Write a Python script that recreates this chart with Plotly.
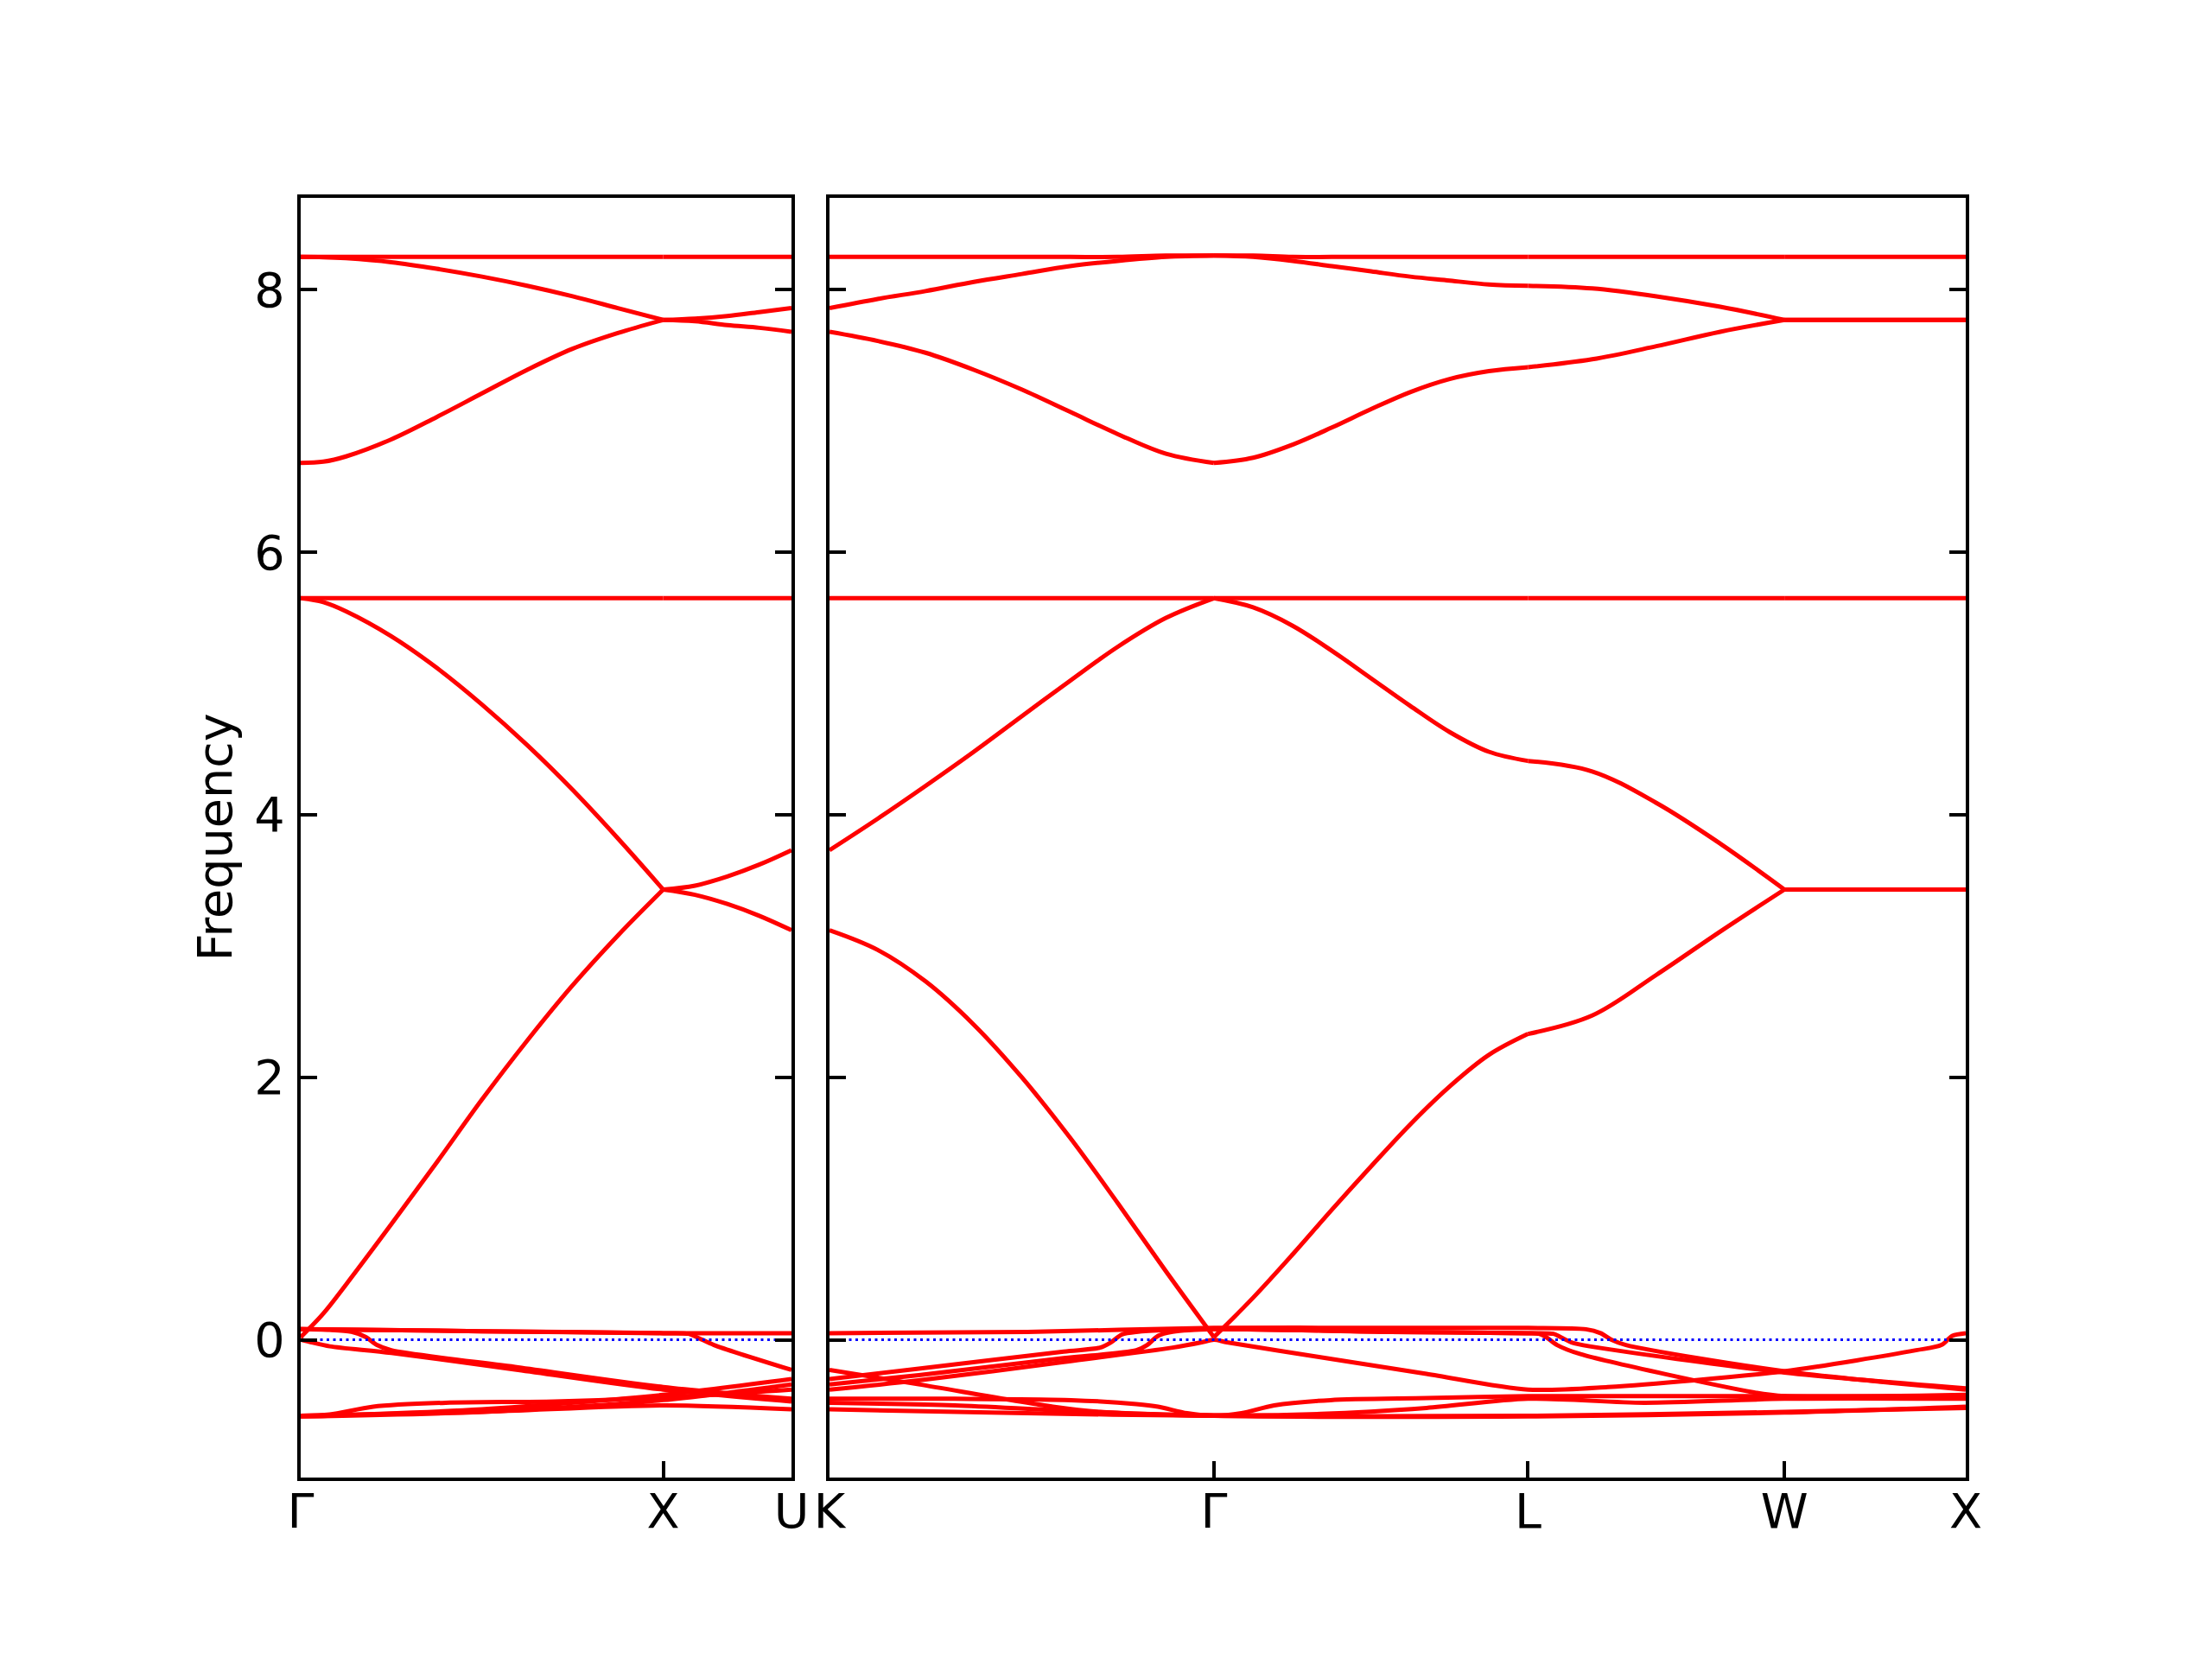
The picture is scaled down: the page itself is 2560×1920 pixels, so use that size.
import plotly.graph_objects as go

# ---------------- high-symmetry path (k-distance in 2*pi/a) ----------------
left_ticks = [0.0, 1.0, 1.354]
left_labels = ["Γ", "X", "U"]
right_ticks = [1.354, 2.414, 3.280, 3.987, 4.487]
right_labels = ["K", "Γ", "L", "W", "X"]
y_ticks = [0, 2, 4, 6, 8]

# sample positions for the smooth upper bands
k_left = [0.0, 0.0625, 0.125, 0.25, 0.375, 0.5, 0.625, 0.75, 0.875, 1.0,
          1.088, 1.177, 1.265, 1.354]
k_right = [1.354, 1.487, 1.619, 1.752, 1.884, 2.017, 2.149, 2.282, 2.414,
           2.522, 2.631, 2.739, 2.847, 2.955, 3.064, 3.172, 3.280,
           3.457, 3.634, 3.810, 3.987, 4.237, 4.487]
# indices of the high-symmetry points inside the sample lists
left_breaks = [0, 9, 13]
right_breaks = [0, 8, 16, 20, 22]

# ---------------- upper bands ----------------
bandA_left = [8.25] * 14
bandA_right = [8.25, 8.25, 8.25, 8.25, 8.25, 8.25, 8.25, 8.26, 8.26,
               8.26, 8.25, 8.25, 8.25, 8.25, 8.25, 8.25, 8.25,
               8.25, 8.25, 8.25, 8.25, 8.25, 8.25]
bandB_left = [8.25, 8.248, 8.24, 8.21, 8.16, 8.10, 8.03, 7.95, 7.86, 7.77,
              7.78, 7.80, 7.83, 7.86]
bandB_right = [7.86, 7.93, 7.99, 8.06, 8.12, 8.18, 8.22, 8.25, 8.26,
               8.25, 8.22, 8.18, 8.14, 8.10, 8.07, 8.04, 8.03,
               8.01, 7.95, 7.87, 7.77, 7.77, 7.77]
bandC_left = [6.68, 6.69, 6.73, 6.86, 7.03, 7.21, 7.39, 7.55, 7.67, 7.77,
              7.76, 7.73, 7.71, 7.68]
bandC_right = [7.68, 7.61, 7.52, 7.39, 7.24, 7.07, 6.90, 6.75, 6.68,
               6.72, 6.82, 6.95, 7.09, 7.22, 7.32, 7.38, 7.41,
               7.47, 7.57, 7.68, 7.77, 7.77, 7.77]
bandD_left = [5.65] * 14
bandD_right = [5.65] * 23
bandE_left = [5.65, 5.62, 5.55, 5.36, 5.12, 4.84, 4.53, 4.19, 3.82, 3.43,
              3.46, 3.53, 3.62, 3.73]
bandE_right = [3.73, 3.97, 4.22, 4.48, 4.75, 5.02, 5.28, 5.50, 5.65,
               5.58, 5.44, 5.25, 5.04, 4.83, 4.63, 4.48, 4.41,
               4.33, 4.09, 3.78, 3.43, 3.43, 3.43]
bandF_left = [0.02, 0.20, 0.42, 0.88, 1.35, 1.83, 2.28, 2.70, 3.08, 3.43,
              3.39, 3.32, 3.23, 3.12]
bandF_right = [3.12, 2.97, 2.73, 2.40, 2.00, 1.54, 1.04, 0.52, 0.02,
               0.32, 0.65, 0.99, 1.32, 1.64, 1.93, 2.17, 2.33,
               2.47, 2.78, 3.11, 3.43, 3.43, 3.43]

# ---------------- lower (near-zero / negative) bands ----------------
# left panel (Gamma - X - U)
l1_k = [0.0, 0.5, 1.0, 1.354]
l1_f = [0.08, 0.065, 0.05, 0.05]
l2_k = [0.0, 0.08, 0.14, 0.18, 0.21, 0.25, 0.6, 1.0, 1.354]
l2_f = [0.08, 0.075, 0.06, 0.02, -0.04, -0.08, -0.21, -0.36, -0.45]
l3_k = [0.0, 0.03, 0.08, 0.25, 0.6, 1.0, 1.354]
l3_f = [0.0, -0.02, -0.05, -0.10, -0.23, -0.38, -0.47]
l4_k = [0.0, 0.5, 1.0, 1.07, 1.1, 1.14, 1.354]
l4_f = [0.08, 0.065, 0.05, 0.045, 0.01, -0.04, -0.23]
l5_k = [0.0, 0.08, 0.2, 0.4, 0.7, 1.0, 1.354]
l5_f = [-0.58, -0.57, -0.51, -0.48, -0.47, -0.44, -0.38]
l6_k = [0.0, 0.5, 1.0, 1.354]
l6_f = [-0.58, -0.55, -0.50, -0.53]
l7_k = [0.0, 0.5, 1.0, 1.354]
l7_f = [-0.585, -0.53, -0.42, -0.30]
l8_k = [0.0, 0.5, 1.0, 1.354]
l8_f = [-0.585, -0.55, -0.46, -0.34]

# right panel (K - Gamma - L - W - X)
r1_k = [1.354, 1.9, 2.414, 2.9, 3.280, 3.44, 3.48, 3.51, 3.55, 3.987, 4.487]
r1_f = [0.05, 0.06, 0.09, 0.09, 0.09, 0.08, 0.05, 0.0, -0.04, -0.24, -0.38]
r2_k = [1.354, 1.6, 2.0, 2.10, 2.13, 2.16, 2.20, 2.414, 2.9, 3.280, 3.31,
        3.33, 3.36, 3.425, 3.9, 3.987, 4.487]
r2_f = [-0.30, -0.22, -0.09, -0.06, -0.02, 0.04, 0.06, 0.08, 0.06, 0.05,
        0.045, 0.02, -0.04, -0.11, -0.40, -0.43, -0.42]
r3_k = [1.354, 1.6, 2.0, 2.20, 2.23, 2.26, 2.30, 2.414, 2.9, 3.280, 3.35,
        3.37, 3.40, 3.45, 3.987, 4.487]
r3_f = [-0.34, -0.27, -0.14, -0.08, -0.04, 0.03, 0.06, 0.08, 0.06, 0.05,
        0.045, 0.02, -0.02, -0.05, -0.25, -0.37]
r4_k = [1.354, 1.6, 2.0, 2.3, 2.38, 2.414, 2.45, 2.7, 3.0, 3.280, 3.5,
        3.987, 4.35, 4.42, 4.45, 4.487]
r4_f = [-0.38, -0.31, -0.17, -0.06, -0.02, 0.0, -0.02, -0.13, -0.26, -0.38,
        -0.36, -0.24, -0.08, -0.04, 0.03, 0.05]
r5_k = [1.354, 1.7, 2.02, 2.2, 2.26, 2.34, 2.414, 2.49, 2.58, 2.735, 3.0,
        3.280, 3.6, 3.987, 4.487]
r5_f = [-0.45, -0.45, -0.46, -0.49, -0.51, -0.56, -0.58, -0.56, -0.50,
        -0.46, -0.445, -0.43, -0.43, -0.43, -0.43]
r6_k = [1.354, 1.6, 1.97, 2.1, 2.414, 2.71, 3.0, 3.280, 3.6, 3.987, 4.487]
r6_f = [-0.23, -0.34, -0.51, -0.55, -0.575, -0.565, -0.52, -0.45, -0.48,
        -0.45, -0.45]
r7_k = [1.354, 1.7, 2.0, 2.414, 3.280, 3.987, 4.487]
r7_f = [-0.48, -0.50, -0.54, -0.58, -0.585, -0.555, -0.51]
r8_k = [1.354, 1.8, 2.414, 3.280, 3.987, 4.487]
r8_f = [-0.53, -0.555, -0.58, -0.58, -0.55, -0.52]

# ---------------- styling ----------------
RED = "#ff0000"
LW = 5
FONT = "DejaVu Sans"
FS = 55.6

fig = go.Figure()


def add_line(k, f, xa, ya, smooth=1.0):
    fig.add_trace(go.Scatter(x=k, y=f, mode="lines", xaxis=xa, yaxis=ya,
                             line=dict(color=RED, width=LW, shape="spline", smoothing=smooth),
                             hoverinfo="skip", showlegend=False))


def add_band(k, f, breaks, xa, ya):
    # one trace per high-symmetry segment, so corners at the points stay sharp
    for a, b in zip(breaks[:-1], breaks[1:]):
        add_line(k[a:b + 1], f[a:b + 1], xa, ya)


for f in [bandA_left, bandB_left, bandC_left, bandD_left, bandE_left, bandF_left]:
    add_band(k_left, f, left_breaks, "x", "y")
for f in [bandA_right, bandB_right, bandC_right, bandD_right, bandE_right, bandF_right]:
    add_band(k_right, f, right_breaks, "x2", "y2")
for k, f in [(l1_k, l1_f), (l2_k, l2_f), (l3_k, l3_f), (l4_k, l4_f),
             (l5_k, l5_f), (l6_k, l6_f), (l7_k, l7_f), (l8_k, l8_f)]:
    add_line(k, f, "x", "y", 0.8)
for k, f in [(r1_k, r1_f), (r2_k, r2_f), (r3_k, r3_f), (r4_k, r4_f),
             (r5_k, r5_f), (r6_k, r6_f), (r7_k, r7_f), (r8_k, r8_f)]:
    add_line(k, f, "x2", "y2", 0.8)

# dotted zero (Fermi) line
fig.add_trace(go.Scatter(x=[left_ticks[0], left_ticks[-1]], y=[0, 0], mode="lines",
                         xaxis="x", yaxis="y",
                         line=dict(color="blue", width=3, dash="3px,4.5px"),
                         hoverinfo="skip", showlegend=False))
fig.add_trace(go.Scatter(x=[right_ticks[0], right_ticks[-1]], y=[0, 0], mode="lines",
                         xaxis="x2", yaxis="y2",
                         line=dict(color="blue", width=3, dash="3px,4.5px"),
                         hoverinfo="skip", showlegend=False))

W, H = 2560, 1920
OFF = 8  # page body offset
y_dom = [1 - (1710 - OFF) / H, 1 - (229 - OFF) / H]
y_range = [-1.05, 8.70]

common_axis = dict(showline=True, linecolor="black", linewidth=4.4, showgrid=False,
                   zeroline=False, ticks="inside", ticklen=19, tickwidth=4.4,
                   tickcolor="black", automargin=False,
                   tickfont=dict(family=FONT, size=FS, color="black"))

fig.update_layout(
    width=W, height=H, margin=dict(l=0, r=0, t=0, b=0, autoexpand=False),
    paper_bgcolor="white", plot_bgcolor="white", showlegend=False,
    xaxis=dict(domain=[(348 - OFF) / W, (916 - OFF) / W],
               range=[left_ticks[0], left_ticks[-1]],
               tickmode="array", tickvals=left_ticks, ticktext=left_labels,
               mirror=True, anchor="y", ticklabelstandoff=-13, **common_axis),
    yaxis=dict(domain=y_dom, range=y_range, tickmode="array", tickvals=y_ticks,
               ticktext=[str(v) for v in y_ticks], mirror="ticks", anchor="x",
               ticklabelstandoff=3, **common_axis),
    xaxis2=dict(domain=[(960 - OFF) / W, (2275 - OFF) / W],
                range=[right_ticks[0], right_ticks[-1]],
                tickmode="array", tickvals=right_ticks, ticktext=right_labels,
                mirror=True, anchor="y2", ticklabelstandoff=-13, **common_axis),
    yaxis2=dict(domain=y_dom, range=y_range, tickmode="array", tickvals=y_ticks,
                showticklabels=False, mirror="ticks", anchor="x2", **common_axis),
    annotations=[dict(text="Frequency", xref="paper", yref="paper",
                      x=(248 - OFF) / W, y=(y_dom[0] + y_dom[1]) / 2, textangle=-90,
                      showarrow=False, xanchor="center", yanchor="middle",
                      font=dict(family=FONT, size=FS, color="black"))],
)

fig.write_html("out.html")
